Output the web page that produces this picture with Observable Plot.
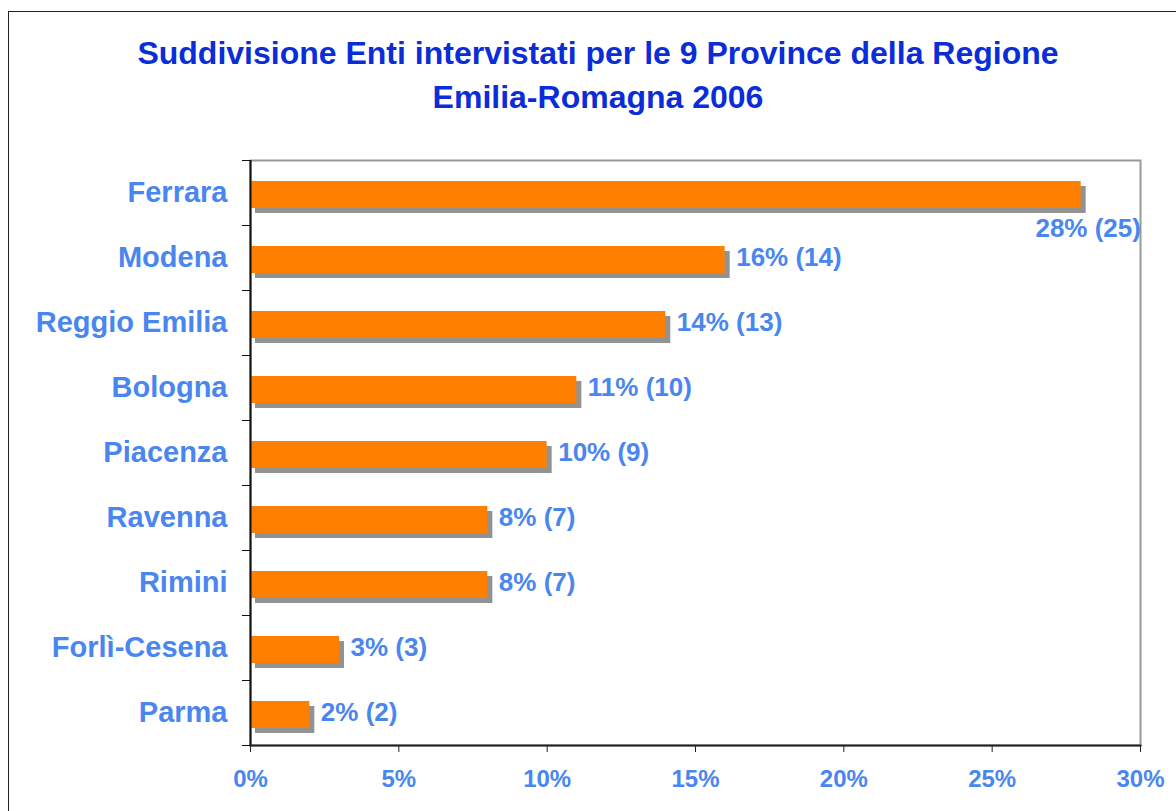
<!DOCTYPE html>
<html>
<head>
<meta charset="utf-8">
<script src="https://cdn.jsdelivr.net/npm/d3@7"></script>
<script src="https://cdn.jsdelivr.net/npm/@observablehq/plot@0.6"></script>
<style>
  html, body { margin: 0; padding: 0; background: #fff; overflow: hidden; width: 1176px; height: 811px; }
  #outer { position: absolute; left: 8px; top: 11px; width: 1300px; height: 900px; border: 1px solid #222; box-sizing: border-box; }
  #title { position: absolute; left: 10px; top: 31px; width: 1176px; text-align: center;
    font-family: "Liberation Sans", Arial, sans-serif; font-weight: bold; font-size: 32px; line-height: 44px; color: #0B2DD8; }
  #chart { position: absolute; left: 0; top: 130px; }
  #chart svg { background: transparent !important; }
</style>
</head>
<body>
<div id="outer"></div>
<div id="title">Suddivisione Enti intervistati per le 9 Province della Regione<br>Emilia-Romagna 2006</div>
<div id="chart"></div>
<script>
const provinces = ["Ferrara", "Modena", "Reggio Emilia", "Bologna", "Piacenza", "Ravenna", "Rimini", "Forlì-Cesena", "Parma"];
const percents = [28, 16, 14, 11, 10, 8, 8, 3, 2];
const counts = [25, 14, 13, 10, 9, 7, 7, 3, 2];
const xTicks = [0, 5, 10, 15, 20, 25, 30];

const data = provinces.map((p, i) => ({
  province: p, pct: percents[i], n: counts[i], label: `${percents[i]}% (${counts[i]})`
}));

const labelBlue = "#4A86F0";
const H = 681, MT = 30, MB = 66;
const band = (H - MT - MB) / provinces.length;

const chart = Plot.plot({
  width: 1176,
  height: H,
  marginTop: MT,
  marginBottom: MB,
  marginLeft: 250,
  marginRight: 36,
  style: { fontFamily: "'Liberation Sans', Arial, sans-serif", background: "transparent" },
  x: { domain: [0, 30] },
  y: { domain: provinces, padding: 0 },
  marks: [
    Plot.frame({ stroke: "#999", strokeWidth: 2 }),
    Plot.barX(data, { x: "pct", y: "province", fill: "#929292", insetTop: 26, insetBottom: 12, dx: 5 }),
    Plot.barX(data, { x: "pct", y: "province", fill: "#FF7F00", insetTop: 21, insetBottom: 17 }),
    Plot.ruleX([0], { stroke: "#111", strokeWidth: 2 }),
    Plot.frame({ anchor: "bottom", stroke: "#222", strokeWidth: 2 }),
    Plot.axisX({ ticks: xTicks, tickSize: 7, tickPadding: 17, tickFormat: d => d + "%",
      fontSize: 24, fontWeight: "bold", fill: labelBlue, stroke: "#222", label: null }),
    Plot.axisY({ tickSize: 0, tickPadding: 23, fontSize: 29, fontWeight: "bold", fill: labelBlue, label: null }),
    Plot.axisY({ tickSize: 8, tickFormat: null, dy: -band / 2, stroke: "#111", label: null }),
    Plot.axisY({ ticks: [provinces[provinces.length - 1]], tickSize: 8, tickFormat: null, dy: band / 2, stroke: "#111", label: null }),
    Plot.text(data.filter((d, i) => i > 0), { x: "pct", y: "province", text: "label", textAnchor: "start", dx: 11,
      fontSize: 26, fontWeight: "bold", fill: labelBlue }),
    Plot.text(data.filter((d, i) => i === 0), { x: "pct", y: "province", text: "label", textAnchor: "middle", dx: 7, dy: 36,
      fontSize: 26, fontWeight: "bold", fill: labelBlue })
  ]
});
document.getElementById("chart").appendChild(chart);
</script>
</body>
</html>
